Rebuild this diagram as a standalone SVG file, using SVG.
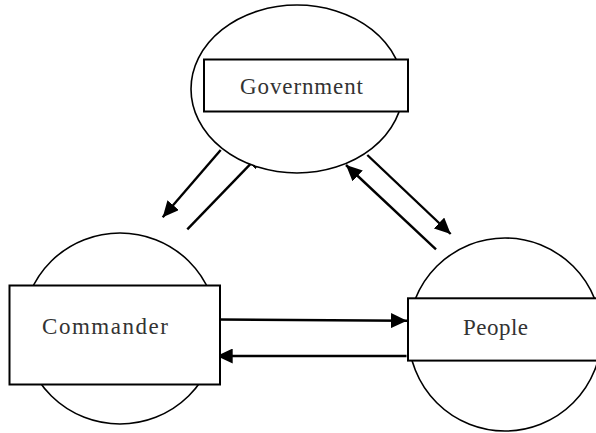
<svg xmlns="http://www.w3.org/2000/svg" width="596" height="433" viewBox="0 0 596 433">
  <style>
    .shape { fill: #ffffff; stroke: #000000; stroke-width: 1.6; }
    .box { fill: #ffffff; stroke: #000000; stroke-width: 2; }
    .label { font-family: "Liberation Serif", "DejaVu Serif", serif; font-size: 23px; fill: #333333; }
    .flow { stroke: #000000; stroke-width: 2.4; fill: none; marker-end: url(#head); }
  </style>
  <defs>
    <marker id="head" markerUnits="userSpaceOnUse" markerWidth="18" markerHeight="15" refX="16" refY="7.5" orient="auto">
      <path d="M0,0 L16,7.5 L0,15 z" fill="#000000"/>
    </marker>
  </defs>
  <rect x="0" y="0" width="596" height="433" fill="#ffffff"/>

  <!-- connectors -->
  <g id="connectors">
    <line class="flow" x1="220.7" y1="150" x2="162.7" y2="217.3"/>
    <line class="flow" x1="187.3" y1="229.3" x2="261.5" y2="152.5"/>
    <line class="flow" x1="436" y1="249.3" x2="346" y2="165"/>
    <line class="flow" x1="367.3" y1="155" x2="450.7" y2="234"/>
    <line class="flow" x1="218" y1="319.5" x2="407" y2="320.7"/>
    <line class="flow" x1="406.5" y1="356" x2="216.7" y2="356"/>
  </g>

  <!-- Government -->
  <g id="government">
    <ellipse class="shape" cx="297" cy="89" rx="106" ry="84"/>
    <rect class="box" x="204" y="59.5" width="204" height="52"/>
    <text class="label" x="240" y="94" textLength="123" lengthAdjust="spacing">Government</text>
  </g>

  <!-- Commander -->
  <g id="commander">
    <ellipse class="shape" cx="120" cy="328.5" rx="97" ry="95.5"/>
    <rect class="box" x="9.5" y="285.5" width="210.5" height="99"/>
    <text class="label" x="42" y="334" textLength="126" lengthAdjust="spacing">Commander</text>
  </g>

  <!-- People -->
  <g id="people">
    <ellipse class="shape" cx="505" cy="334.5" rx="96.5" ry="96.5"/>
    <rect class="box" x="408" y="298.3" width="192" height="62.3"/>
    <text class="label" x="463" y="335" textLength="65" lengthAdjust="spacing">People</text>
  </g>
</svg>
